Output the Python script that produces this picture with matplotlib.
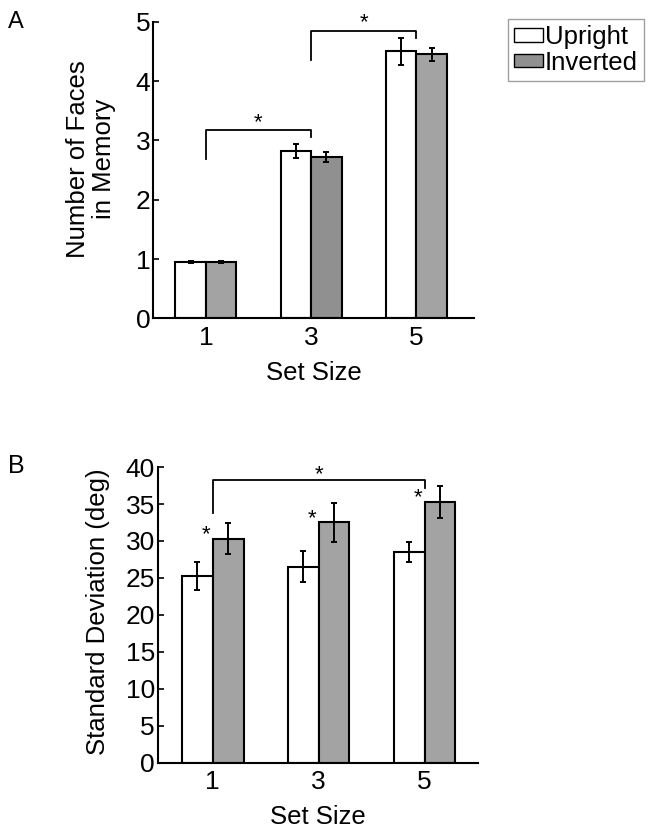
import matplotlib
matplotlib.use("Agg")
import matplotlib.pyplot as plt
from matplotlib.patches import Patch

plt.rcParams['font.family'] = ['Liberation Sans', 'DejaVu Sans']

# ==========================================
# 資料
# ==========================================
set_sizes = ['1', '3', '5']

# Panel A: Number of Faces in Memory
a_upright = [0.95, 2.82, 4.50]
a_upright_err = [0.02, 0.12, 0.22]
a_inverted = [0.95, 2.72, 4.45]
a_inverted_err = [0.01, 0.08, 0.11]

# Panel B: Standard Deviation (deg)
b_upright = [25.2, 26.5, 28.5]
b_upright_err = [1.9, 2.1, 1.3]
b_inverted = [30.3, 32.5, 35.3]
b_inverted_err = [2.1, 2.7, 2.2]

WHITE = 'white'
GRAY = '#a3a3a3'
DARK_GRAY = '#909090'
BAR_W = 0.29
TICK_FS = 19
LABEL_FS = 18.5


def draw_bars(ax, up, up_err, inv, inv_err, inv_colors):
    x = list(range(1, len(up) + 1))
    xu = [v - BAR_W / 2 for v in x]
    xi = [v + BAR_W / 2 for v in x]
    ax.bar(xu, up, BAR_W, color=WHITE, edgecolor='black', linewidth=1.5, zorder=2)
    ax.bar(xi, inv, BAR_W, color=inv_colors, edgecolor='black', linewidth=1.5, zorder=2)
    ax.errorbar(xu, up, yerr=up_err, fmt='none', ecolor='black', elinewidth=1.4,
                capsize=2.2, capthick=1.4, zorder=3)
    ax.errorbar(xi, inv, yerr=inv_err, fmt='none', ecolor='black', elinewidth=1.4,
                capsize=2.2, capthick=1.4, zorder=3)
    ax.set_xticks(x)
    ax.set_xticklabels(set_sizes)
    for s in ['top', 'right']:
        ax.spines[s].set_visible(False)
    for s in ['left', 'bottom']:
        ax.spines[s].set_linewidth(1.5)
    ax.tick_params(direction='in', length=4, width=1.2, labelsize=TICK_FS)
    ax.tick_params(axis='y', pad=2)
    ax.tick_params(axis='x', pad=5.5)
    ax.set_xlabel('Set Size', fontsize=LABEL_FS, labelpad=8)


def bracket(ax, x0, x1, y, y0_low, y1_low, star_y):
    ax.plot([x0, x0, x1, x1], [y0_low, y, y, y1_low], color='black', lw=1.3,
            clip_on=False, zorder=4)
    ax.text((x0 + x1) / 2, star_y, '*', ha='center', va='center', fontsize=16)


fig = plt.figure(figsize=(6.49, 8.4), dpi=100)

# ---------- Panel A ----------
axA = fig.add_axes([0.236, 0.621, 0.495, 0.353])
draw_bars(axA, a_upright, a_upright_err, a_inverted, a_inverted_err,
          [GRAY, DARK_GRAY, GRAY])
axA.set_xlim(0.5, 3.55)
axA.set_ylim(0, 5)
axA.set_yticks(range(0, 6))
fig.text(91 / 649, 1 - 159 / 840, 'Number of Faces\nin Memory', rotation=90,
         ha='center', va='center', fontsize=LABEL_FS, linespacing=1.15)
bracket(axA, 1, 2, 3.18, 2.69, 3.06, 3.30)
bracket(axA, 2, 3, 4.85, 4.36, 4.73, 4.98)
fig.text(16 / 649, 1 - 22 / 840, 'A', fontsize=17, ha='center', va='center')

# ---------- Panel B ----------
axB = fig.add_axes([0.243, 0.092, 0.493, 0.352])
draw_bars(axB, b_upright, b_upright_err, b_inverted, b_inverted_err, GRAY)
axB.set_xlim(0.48, 3.5)
axB.set_ylim(0, 40)
axB.set_yticks(range(0, 41, 5))
fig.text(98 / 649, 1 - 612 / 840, 'Standard Deviation (deg)', rotation=90,
         ha='center', va='center', fontsize=LABEL_FS)
bracket(axB, 1, 3, 38.2, 33.8, 37.1, 38.9)
for i, v in enumerate(b_inverted):
    axB.text(i + 1 - 0.06, v + 0.5, '*', ha='center', va='center', fontsize=16)
fig.text(16 / 649, 1 - 466 / 840, 'B', fontsize=18, ha='center', va='center')

# ---------- Legend ----------
handles = [Patch(facecolor=WHITE, edgecolor='black', linewidth=1.0, label='Upright'),
           Patch(facecolor=DARK_GRAY, edgecolor='black', linewidth=1.0, label='Inverted')]
fig.legend(handles=handles, loc='upper left', bbox_to_anchor=(508 / 649, 1 - 19 / 840),
           fontsize=LABEL_FS, frameon=True, fancybox=False, edgecolor='#888888',
           handlelength=1.1, handleheight=0.45, handletextpad=0.08,
           borderpad=0.25, labelspacing=0.05, borderaxespad=0.0)

fig.savefig('out.png', dpi=100)
